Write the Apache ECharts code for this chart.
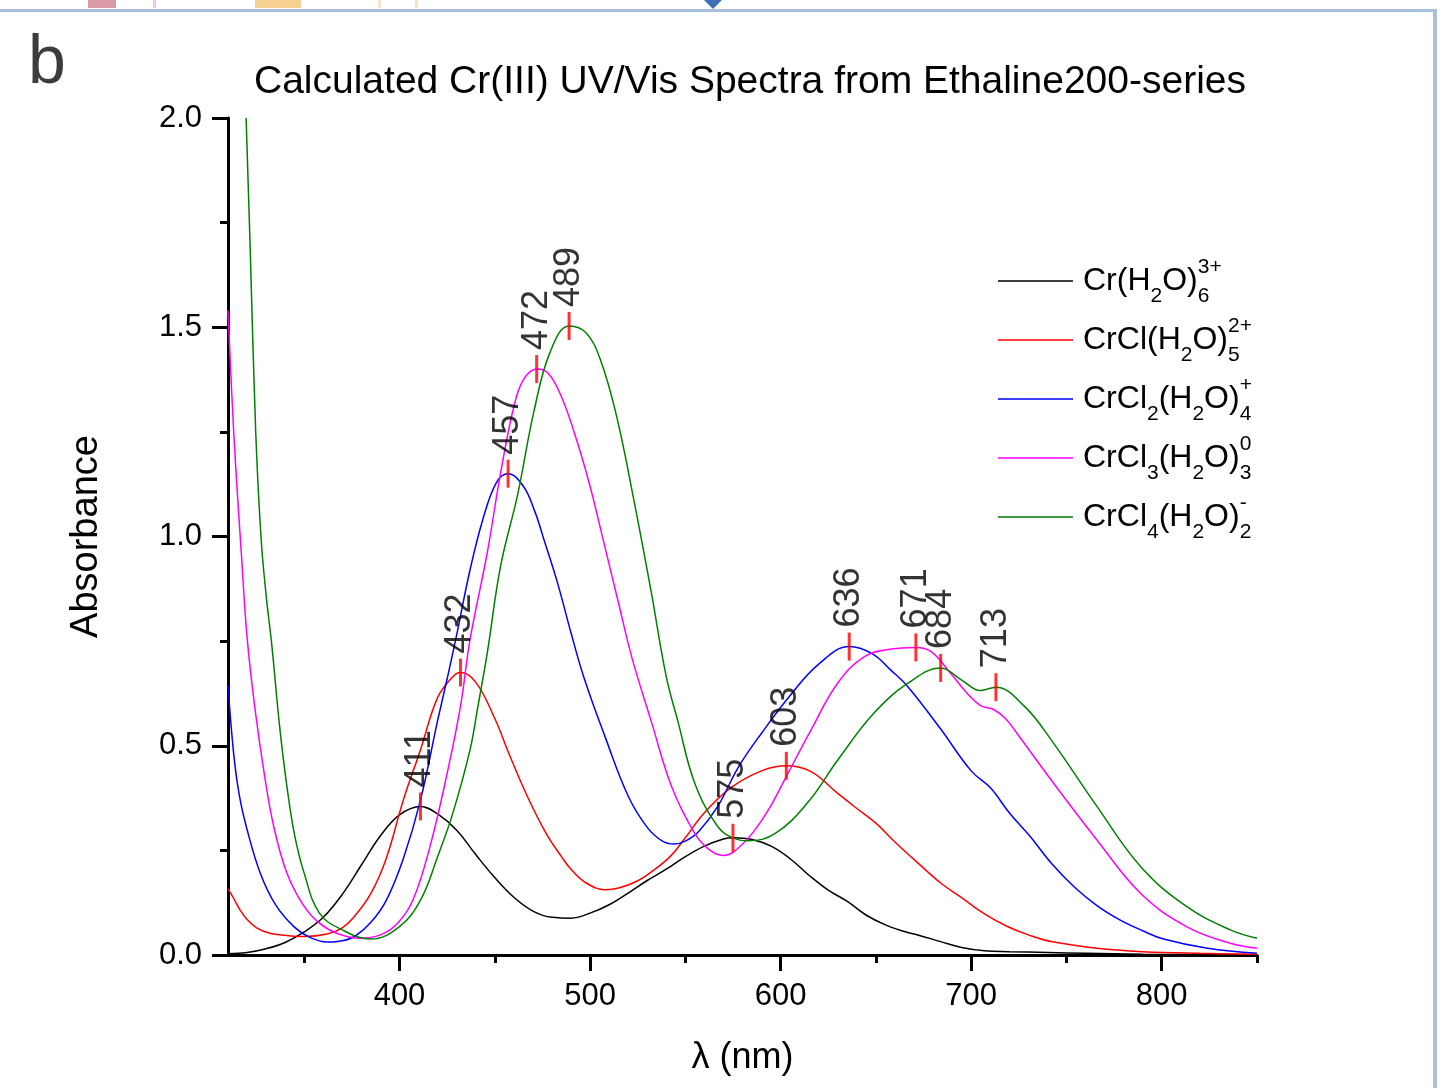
<!DOCTYPE html>
<html>
<head>
<meta charset="utf-8">
<script src="https://cdn.jsdelivr.net/npm/echarts@6/dist/echarts.min.js"></script>
<style>
  html, body { margin: 0; padding: 0; background: #fff; }
  #chart { width: 1445px; height: 1088px; }
</style>
</head>
<body>
<div id="chart"></div>
<script>
// wavelengths (nm) and absorbance, one pair per species
var wlHex = [310, 320, 330, 340, 350, 360, 370, 380, 390, 400, 411, 420, 430, 440, 450, 460, 470, 480, 490, 500, 510, 520, 530, 540, 550, 560, 570, 575, 585, 595, 605, 615, 625, 635, 645, 655, 665, 672, 684, 695, 707, 720, 740, 760, 790, 820, 850];
var absHex = [0.003, 0.006, 0.015, 0.03, 0.055, 0.09, 0.145, 0.215, 0.285, 0.335, 0.355, 0.337, 0.298, 0.24, 0.185, 0.138, 0.105, 0.09, 0.088, 0.1, 0.12, 0.148, 0.178, 0.205, 0.235, 0.26, 0.277, 0.28, 0.276, 0.26, 0.23, 0.19, 0.155, 0.128, 0.095, 0.072, 0.056, 0.048, 0.032, 0.018, 0.01, 0.008, 0.006, 0.004, 0.002, 0.001, 0.0];

var wlCl1 = [310, 313, 316, 320, 325, 332, 340, 350, 362, 370, 376, 385, 393, 402, 411, 420, 428, 432, 440, 450, 458, 467, 477, 485, 490, 498, 508, 515, 524, 532, 542, 550, 560, 574, 590, 603, 616, 630, 640, 650, 660, 672, 684, 695, 707, 719, 730, 742, 766, 790, 820, 850];
var absCl1 = [0.158, 0.135, 0.11, 0.085, 0.065, 0.052, 0.047, 0.044, 0.05, 0.065, 0.09, 0.147, 0.23, 0.37, 0.49, 0.615, 0.665, 0.675, 0.652, 0.565, 0.475, 0.38, 0.29, 0.235, 0.205, 0.172, 0.156, 0.16, 0.175, 0.198, 0.235, 0.28, 0.34, 0.40, 0.44, 0.452, 0.438, 0.386, 0.35, 0.315, 0.27, 0.22, 0.172, 0.137, 0.098, 0.068, 0.048, 0.032, 0.016, 0.008, 0.004, 0.002];

var wlCl2 = [310, 313, 316, 320, 327, 335, 345, 353, 362, 370, 377, 385, 393, 402, 411, 420, 425, 430, 437, 444, 451, 457, 465, 471, 476, 483, 490, 497, 508, 520, 530, 538, 544, 550, 557, 567, 578, 590, 605, 620, 636, 648, 658, 667, 684, 700, 710, 720, 731, 742, 754, 766, 778, 790, 801, 824, 850];
var absCl2 = [0.645, 0.48, 0.38, 0.30, 0.195, 0.12, 0.066, 0.042, 0.031, 0.034, 0.046, 0.078, 0.13, 0.23, 0.37, 0.56, 0.66, 0.765, 0.92, 1.045, 1.13, 1.15, 1.12, 1.06, 0.99, 0.888, 0.77, 0.66, 0.52, 0.38, 0.305, 0.272, 0.265, 0.272, 0.295, 0.355, 0.45, 0.53, 0.62, 0.695, 0.737, 0.72, 0.68, 0.64, 0.54, 0.44, 0.40, 0.34, 0.283, 0.22, 0.163, 0.118, 0.084, 0.058, 0.038, 0.016, 0.004];

var wlCl3 = [310, 312, 314, 317, 320, 324, 329, 334, 341, 350, 358, 367, 379, 390, 399, 407, 416, 425, 432, 437, 446, 453, 460, 465, 472, 478, 485, 493, 500, 507, 515, 522, 532, 543, 555, 563, 570, 575, 585, 594, 602, 616, 630, 644, 658, 671, 679, 688, 698, 705, 712, 718, 724, 742, 766, 789, 813, 836, 850];
var absCl3 = [1.54, 1.34, 1.17, 0.96, 0.76, 0.594, 0.434, 0.307, 0.195, 0.116, 0.076, 0.052, 0.04, 0.048, 0.076, 0.131, 0.259, 0.434, 0.594, 0.753, 0.96, 1.15, 1.31, 1.374, 1.40, 1.39, 1.334, 1.23, 1.12, 0.99, 0.84, 0.71, 0.56, 0.40, 0.29, 0.25, 0.238, 0.245, 0.29, 0.35, 0.418, 0.538, 0.65, 0.713, 0.731, 0.735, 0.725, 0.68, 0.625, 0.596, 0.586, 0.565, 0.53, 0.418, 0.275, 0.147, 0.068, 0.028, 0.016];

var wlCl4 = [319.5, 321.7, 324.5, 327.3, 330, 333, 337, 341, 345, 350, 358, 370, 385, 400, 411, 420, 428, 437, 441, 446, 453, 462, 470.6, 479, 489, 498, 505.6, 514, 523, 532, 540, 546, 555, 567, 575, 583, 597, 614, 630, 649, 667, 684, 695, 705, 713, 728, 742, 766, 789, 813, 836, 850];
var absCl4 = [2.0, 1.68, 1.255, 1.0, 0.86, 0.74, 0.55, 0.40, 0.285, 0.195, 0.10, 0.06, 0.038, 0.068, 0.131, 0.235, 0.339, 0.49, 0.59, 0.72, 0.928, 1.10, 1.30, 1.44, 1.503, 1.486, 1.42, 1.286, 1.087, 0.87, 0.665, 0.56, 0.41, 0.307, 0.28, 0.273, 0.29, 0.363, 0.466, 0.578, 0.65, 0.686, 0.657, 0.632, 0.64, 0.594, 0.514, 0.355, 0.211, 0.116, 0.06, 0.04];

// marked band maxima
var peakWl = [411, 432, 457, 472, 489, 575, 603, 636, 671, 684, 713];
var peakAbs = [0.355, 0.675, 1.15, 1.40, 1.503, 0.28, 0.452, 0.737, 0.735, 0.686, 0.64];

var xMajor = [400, 500, 600, 700, 800];
var xMinor = [350, 450, 550, 650, 750, 850];

var seriesNames = ['Cr(H2O)6 3+', 'CrCl(H2O)5 2+', 'CrCl2(H2O)4 +', 'CrCl3(H2O)3 0', 'CrCl4(H2O)2 -'];
var seriesColors = ['#000000', '#ff0000', '#0000ff', '#ff00ff', '#008000'];
var seriesWl = [wlHex, wlCl1, wlCl2, wlCl3, wlCl4];
var seriesAbs = [absHex, absCl1, absCl2, absCl3, absCl4];

// legend text pieces: [text, isSub, superscript]
var legendParts = [
  [['Cr(H', 0], ['2', 1], ['O)', 0], ['6', 1, '3+']],
  [['CrCl(H', 0], ['2', 1], ['O)', 0], ['5', 1, '2+']],
  [['CrCl', 0], ['2', 1], ['(H', 0], ['2', 1], ['O)', 0], ['4', 1, '+']],
  [['CrCl', 0], ['3', 1], ['(H', 0], ['2', 1], ['O)', 0], ['3', 1, '0']],
  [['CrCl', 0], ['4', 1], ['(H', 0], ['2', 1], ['O)', 0], ['2', 1, '-']]
];

var FONT = '"Liberation Sans", Arial, sans-serif';
var ctx = document.createElement('canvas').getContext('2d');
function textW(s, size) {
  ctx.font = size + 'px ' + FONT;
  return ctx.measureText(s).width;
}

function pairs(xs, ys) {
  return xs.map(function (x, i) { return [x, ys[i]]; });
}

var graphics = [
  // bits of the page frame around the figure
  { type: 'rect', shape: { x: 0, y: 9, width: 1437, height: 3 }, style: { fill: '#a9bfdc' } },
  { type: 'rect', shape: { x: 1433, y: 9, width: 4, height: 1079 }, style: { fill: '#a9bfdc' } },
  { type: 'rect', shape: { x: 88, y: 0, width: 28, height: 8 }, style: { fill: '#d99aa6' } },
  { type: 'rect', shape: { x: 153, y: 0, width: 3, height: 8 }, style: { fill: '#ecc6ee' } },
  { type: 'rect', shape: { x: 255, y: 0, width: 46, height: 8 }, style: { fill: '#f6d08e' } },
  { type: 'rect', shape: { x: 378, y: 0, width: 3, height: 8 }, style: { fill: '#f7e2cc' } },
  { type: 'rect', shape: { x: 415, y: 0, width: 3, height: 8 }, style: { fill: '#f7e2cc' } },
  { type: 'polygon', shape: { points: [[704, 0], [722, 0], [713, 9]] }, style: { fill: '#3f6fb5' } },
  { type: 'text', left: 28, top: 30, style: { text: 'b', font: '68px ' + FONT, fill: '#3c3c3c' } }
];

// hand-built legend so the sub/superscripts stack like the original
legendParts.forEach(function (parts, i) {
  var y = 281 + i * 59;
  graphics.push({
    type: 'line', shape: { x1: 998, y1: y, x2: 1073, y2: y },
    style: { stroke: seriesColors[i], lineWidth: 1.5 }
  });
  var x = 1083;
  parts.forEach(function (p) {
    var size = p[1] ? 21 : 32;
    graphics.push({
      type: 'text', x: x, y: p[1] ? y + 15 : y,
      style: { text: p[0], font: size + 'px ' + FONT, fill: '#000', verticalAlign: 'middle', align: 'left' }
    });
    if (p[2]) {
      graphics.push({
        type: 'text', x: x, y: y - 14,
        style: { text: p[2], font: '21px ' + FONT, fill: '#000', verticalAlign: 'middle', align: 'left' }
      });
    }
    x += textW(p[0], size);
  });
});

var series = seriesNames.map(function (name, i) {
  return {
    name: name,
    type: 'line',
    data: pairs(seriesWl[i], seriesAbs[i]),
    showSymbol: false,
    smooth: 0.4,
    clip: true,
    lineStyle: { color: seriesColors[i], width: 1.5 },
    itemStyle: { color: seriesColors[i] },
    silent: true
  };
});

series.push({
  name: 'peaks',
  type: 'scatter',
  data: pairs(peakWl, peakAbs),
  symbol: 'rect',
  symbolSize: [3, 28],
  itemStyle: { color: '#ff0000' },
  z: 5,
  silent: true,
  label: {
    show: true,
    formatter: function (p) { return String(p.value[0]); },
    position: 'top',
    distance: 5,
    rotate: 90,
    align: 'left',
    verticalAlign: 'middle',
    fontFamily: FONT,
    fontSize: 36,
    color: '#000',
    textBorderWidth: 0
  }
});

var chart = echarts.init(document.getElementById('chart'));
chart.setOption({
  animation: false,
  backgroundColor: '#ffffff',
  title: {
    text: 'Calculated Cr(III) UV/Vis Spectra from Ethaline200-series',
    left: 249,
    top: 58,
    textStyle: { fontFamily: FONT, fontSize: 39, fontWeight: 'normal', color: '#000' }
  },
  grid: { left: 228, right: 188, top: 118, bottom: 133, containLabel: false },
  xAxis: [{
    type: 'value',
    min: 310,
    max: 850,
    name: 'λ (nm)',
    nameLocation: 'middle',
    nameGap: 85,
    nameTextStyle: { fontFamily: FONT, fontSize: 36, color: '#000' },
    axisLine: { show: true, lineStyle: { color: '#000', width: 3 } },
    axisTick: { show: true, customValues: xMajor, length: 16, lineStyle: { color: '#000', width: 3 } },
    axisLabel: { customValues: xMajor, margin: 26, fontFamily: FONT, fontSize: 31, color: '#000' },
    splitLine: { show: false }
  }, {
    type: 'value',
    min: 310,
    max: 850,
    position: 'bottom',
    axisLine: { show: false },
    axisTick: { show: true, customValues: xMinor, length: 8, lineStyle: { color: '#000', width: 3 } },
    axisLabel: { show: false },
    splitLine: { show: false }
  }],
  yAxis: {
    type: 'value',
    min: 0,
    max: 2,
    interval: 0.5,
    name: 'Absorbance',
    nameLocation: 'middle',
    nameGap: 122,
    nameTextStyle: { fontFamily: FONT, fontSize: 38, color: '#000' },
    axisLine: { show: true, lineStyle: { color: '#000', width: 3 } },
    axisTick: { show: true, length: 16, lineStyle: { color: '#000', width: 3 } },
    minorTick: { show: true, splitNumber: 2, length: 8, lineStyle: { color: '#000', width: 3 } },
    axisLabel: {
      margin: 26, fontFamily: FONT, fontSize: 31, color: '#000',
      formatter: function (v) { return v.toFixed(1); }
    },
    splitLine: { show: false }
  },
  graphic: graphics,
  series: series
});
</script>
</body>
</html>
